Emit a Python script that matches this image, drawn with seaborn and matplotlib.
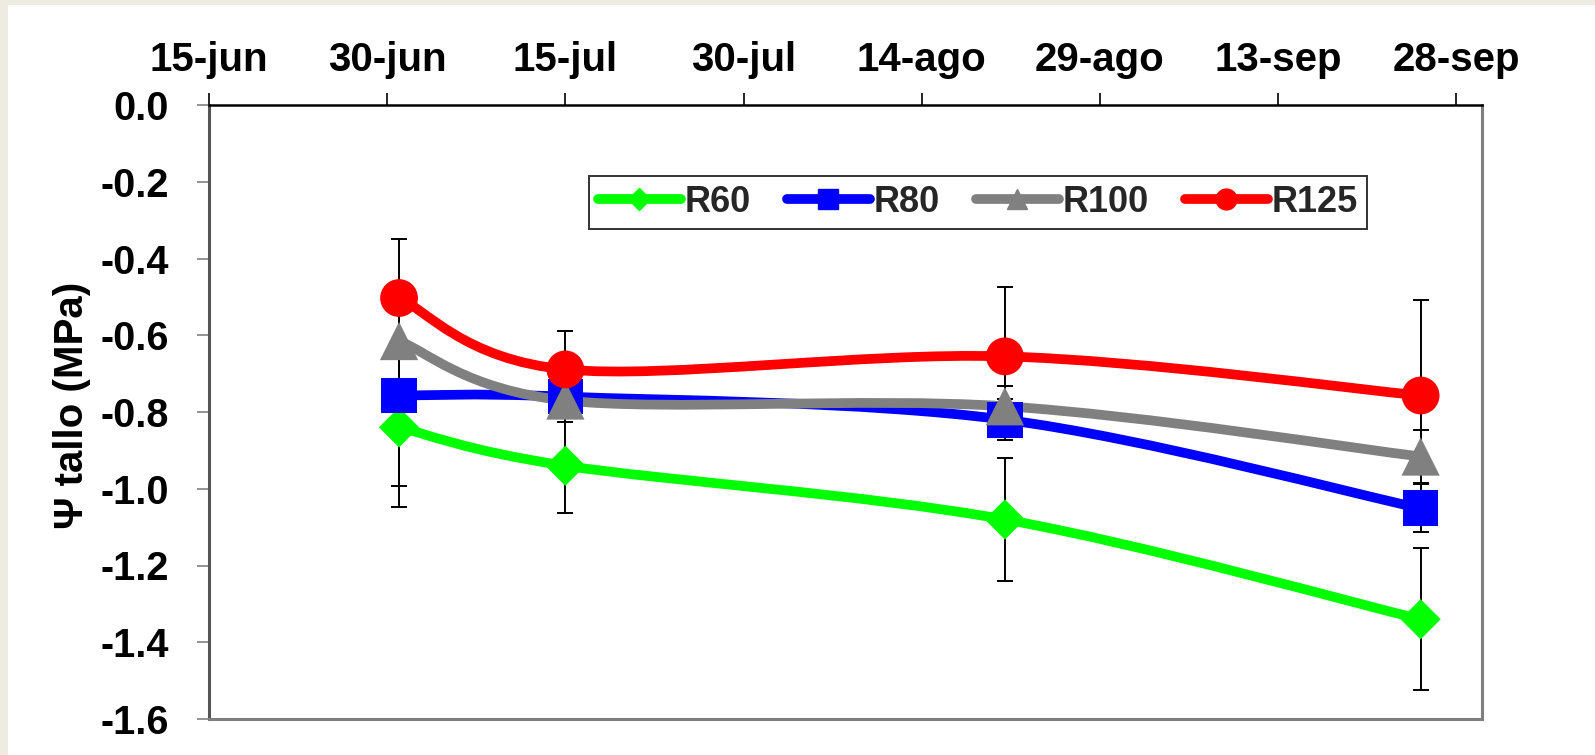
import matplotlib
matplotlib.use('Agg')
import matplotlib.pyplot as plt
import matplotlib.dates as mdates
from matplotlib.path import Path
from matplotlib.patches import PathPatch, Rectangle
from matplotlib.lines import Line2D
import numpy as np
import pandas as pd
import seaborn as sns

# sampling dates and stem water potential (MPa) with error bars
dates = pd.to_datetime(['2008-07-01', '2008-07-15', '2008-08-21', '2008-09-25'])
r60 = [-0.840, -0.940, -1.080, -1.340]
r60_err = [0.208, 0.124, 0.160, 0.185]
r80 = [-0.757, -0.760, -0.820, -1.051]
r80_err = [0.236, 0.066, 0.053, 0.063]
r100 = [-0.615, -0.770, -0.785, -0.916]
r100_err = [0.100, 0.043, 0.053, 0.070]
r125 = [-0.503, -0.689, -0.655, -0.757]
r125_err = [0.154, 0.100, 0.180, 0.250]

series_names = ['R60', 'R80', 'R100', 'R125']
tick_dates = pd.to_datetime(['2008-06-15', '2008-06-30', '2008-07-15', '2008-07-30',
                             '2008-08-14', '2008-08-29', '2008-09-13', '2008-09-28'])
tick_labels = ['15-jun', '30-jun', '15-jul', '30-jul', '14-ago', '29-ago', '13-sep', '28-sep']
y_ticks = [0.0, -0.2, -0.4, -0.6, -0.8, -1.0, -1.2, -1.4, -1.6]

colors = {'R60': '#00FF00', 'R80': '#0000FF', 'R100': '#808080', 'R125': '#FF0000'}
markers = {'R60': 'D', 'R80': 's', 'R100': '^', 'R125': 'o'}
sizes = {'R60': 420, 'R80': 660, 'R100': 760, 'R125': 740}

sns.set_theme(style='white')
plt.rcParams['font.family'] = ['Liberation Sans', 'DejaVu Sans']
plt.rcParams['font.weight'] = 'bold'
plt.rcParams['axes.unicode_minus'] = False

xnum = mdates.date2num(dates)
values = {'R60': r60, 'R80': r80, 'R100': r100, 'R125': r125}
errors = {'R60': r60_err, 'R80': r80_err, 'R100': r100_err, 'R125': r125_err}

df = pd.DataFrame({
    'x': np.tile(xnum, 4),
    'y': r60 + r80 + r100 + r125,
    'serie': np.repeat(series_names, 4),
})

fig = plt.figure(figsize=(15.95, 7.55), dpi=100, facecolor='#EEECE1')
fig.patches.append(Rectangle((8 / 1595, 0), 1, 1 - 5 / 755, transform=fig.transFigure,
                             facecolor='white', edgecolor='none', zorder=-10))
ax = fig.add_axes([209 / 1595, 1 - 719 / 755, (1482 - 209) / 1595, (719 - 105) / 755])
ax.set_facecolor('white')


def smooth_path(x, y):
    # Excel-style smoothed line: cubic bezier with catmull-rom control points
    pts = np.column_stack([x, y])
    n = len(pts)
    verts = [pts[0]]
    codes = [Path.MOVETO]
    for i in range(n - 1):
        p_prev = pts[max(i - 1, 0)]
        p0 = pts[i]
        p1 = pts[i + 1]
        p_next = pts[min(i + 2, n - 1)]
        c1 = p0 + (p1 - p_prev) / 6
        c2 = p1 - (p_next - p0) / 6
        verts += [c1, c2, p1]
        codes += [Path.CURVE4] * 3
    return Path(verts, codes)


for name in series_names:
    ax.errorbar(xnum, values[name], yerr=errors[name], fmt='none', ecolor='black',
                elinewidth=1.4, capsize=6, capthick=1.4, zorder=1)
    ax.add_patch(PathPatch(smooth_path(xnum, values[name]), facecolor='none',
                           edgecolor=colors[name], lw=7, capstyle='round', zorder=2))

sns.scatterplot(data=df, x='x', y='y', hue='serie', style='serie', palette=colors,
                markers=markers, size='serie', sizes=sizes, linewidth=0,
                legend=False, ax=ax, zorder=3)

ax.set_xlim(mdates.date2num(pd.Timestamp('2008-06-15')),
            mdates.date2num(pd.Timestamp('2008-09-30 04:00')))
ax.set_ylim(-1.6, 0)
ax.set_xticks(mdates.date2num(tick_dates))
ax.set_xticklabels(tick_labels)
ax.set_yticks(y_ticks)
ax.set_yticklabels([f'{v:.1f}' for v in y_ticks])
ax.xaxis.tick_top()
ax.tick_params(axis='x', top=True, bottom=False, direction='out', length=9, width=1.2,
               color='black', labelsize=29, pad=10, labelcolor='black')
ax.tick_params(axis='y', left=True, direction='out', length=9, width=1.2,
               color='#808080', labelsize=28.5, pad=20, labelcolor='black')
ax.set_xlabel('')
ax.set_ylabel('Ψ tallo (MPa)', fontsize=29, fontweight='bold', color='black')
ax.yaxis.set_label_coords(-0.093, 0.51)

for side in ['left', 'right', 'bottom']:
    ax.spines[side].set_color('#7F7F7F')
    ax.spines[side].set_linewidth(2.2)
ax.spines['left'].set_color('#555555')
ax.spines['top'].set_color('black')
ax.spines['top'].set_linewidth(1.8)

handles = [Line2D([], [], color=colors[n], lw=7, marker=markers[n],
                  markersize=15 if n != 'R60' else 11, solid_capstyle='round')
           for n in series_names]
leg = ax.legend(handles, series_names, ncol=4, loc='upper left',
                bbox_to_anchor=(0.284, 0.914), frameon=True, fancybox=False,
                edgecolor='black', handlelength=2.3, handletextpad=0.1,
                columnspacing=1.0, borderpad=0.25, prop={'weight': 'bold', 'size': 26})
leg.get_frame().set_linewidth(1.4)

fig.savefig('out.png', dpi=100, facecolor=fig.get_facecolor())
